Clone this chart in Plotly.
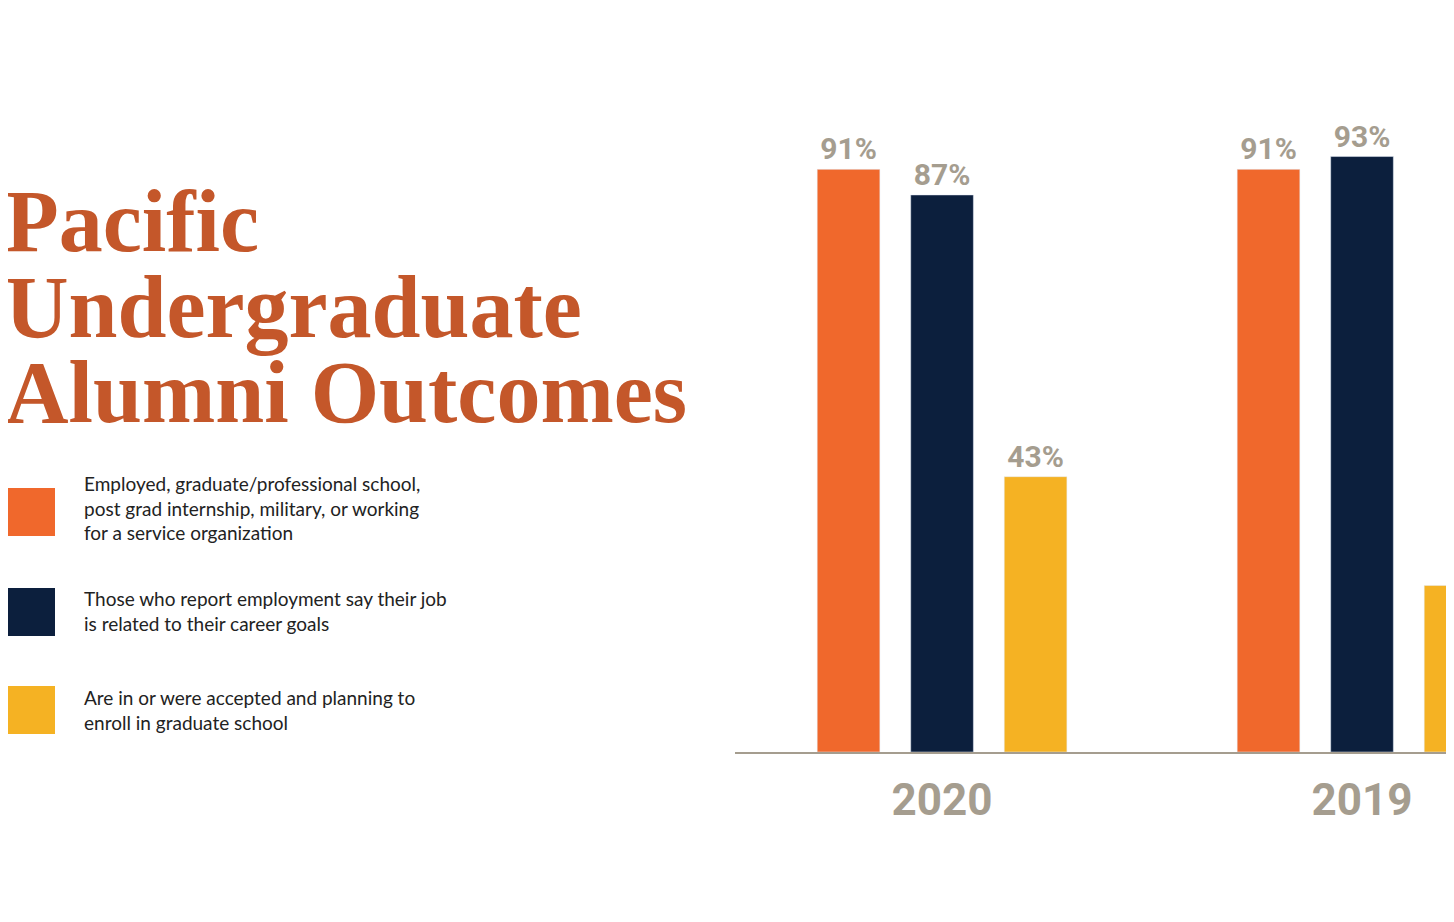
import plotly.graph_objects as go

years = ["2020", "2019"]
employed = [91, 91]
related = [87, 93]
grad_school = [43, 26]
series_names = [
    "Employed, graduate/professional school,<br>post grad internship, military, or working<br>for a service organization",
    "Those who report employment say their job<br>is related to their career goals",
    "Are in or were accepted and planning to<br>enroll in graduate school",
]
title_lines = ["Pacific", "Undergraduate", "Alumni Outcomes"]
colors = ["#f0682c", "#0c1f3d", "#f5b223"]
label_color = "#a59d8f"

OFF = 8  # page margin in the browser
W, H = 1454 - OFF, 922 - OFF
left, bottom = 735 - OFF, 752 - OFF


def px_x(p):
    return (p - OFF - left) / (W - left)


def px_y(p):
    return (bottom - (p - OFF)) / bottom


fig = go.Figure()
for vals, name, c in zip([employed, related, grad_school], series_names, colors):
    fig.add_trace(go.Bar(
        x=years, y=vals, name=name, marker_color=c,
        text=[f"{v}%" for v in vals], textposition="outside", cliponaxis=False,
        textfont=dict(family="Roboto", size=30, color=label_color, weight="bold"),
    ))

# title, one annotation per line to keep the tight spacing
for line, yc in zip(title_lines, [222, 307, 392]):
    fig.add_annotation(
        text=line, xref="paper", yref="paper", x=px_x(3), y=px_y(yc),
        xanchor="left", yanchor="middle", showarrow=False,
        font=dict(family="Liberation Serif", size=88, color="#c4572a", weight="bold"),
    )

# custom legend
for (top, text_top), name, c in zip([(488, 470), (588, 585), (686, 684)], series_names, colors):
    fig.add_shape(type="rect", xref="paper", yref="paper",
                  x0=px_x(7), x1=px_x(55), y0=px_y(top), y1=px_y(top + 48),
                  fillcolor=c, line_width=0)
    fig.add_annotation(text=name, xref="paper", yref="paper", x=px_x(82), y=px_y(text_top),
                       xanchor="left", yanchor="top", align="left", showarrow=False,
                       font=dict(family="Lato", size=19, color="#222222"))

fig.update_layout(
    width=W, height=H, barmode="group", bargap=0.332, bargroupgap=0.33,
    paper_bgcolor="white", plot_bgcolor="white", showlegend=False,
    margin=dict(l=left, r=0, t=0, b=H - bottom),
    xaxis=dict(range=[-0.493, 1.219], showline=True, linecolor=label_color, linewidth=2,
               ticks="", ticklabelstandoff=8,
               tickfont=dict(family="Roboto", size=44, color=label_color, weight="bold")),
    yaxis=dict(range=[0, 116.2], visible=False),
)
fig.write_html("out.html")
